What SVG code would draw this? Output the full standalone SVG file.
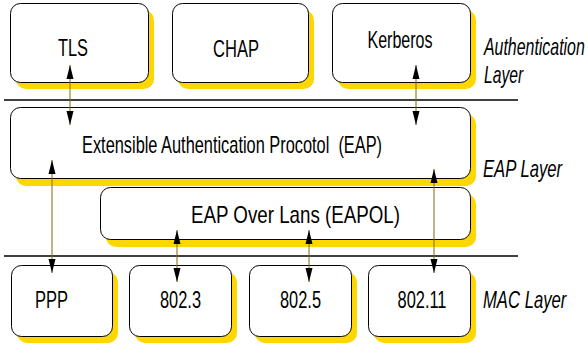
<svg xmlns="http://www.w3.org/2000/svg" width="588" height="347" viewBox="0 0 588 347">
<style>
.sh{fill:#FFD700;stroke:none}
.bx{fill:#fff;stroke:#000;stroke-width:1}
.t{font-family:"Liberation Sans Narrow","Liberation Sans",Arial,sans-serif;font-size:24px;fill:#000;white-space:pre}
.l{font-family:"Liberation Sans Narrow","Liberation Sans",Arial,sans-serif;font-size:23px;font-style:italic;fill:#000}
.c{stroke:#7a6a10;stroke-width:1;fill:none;marker-start:url(#ah);marker-end:url(#ah)}
.sep{stroke:#000;stroke-width:1.5}
</style>
<defs>
<marker id="ah" markerUnits="userSpaceOnUse" markerWidth="14" markerHeight="8" refX="14" refY="4" orient="auto-start-reverse" viewBox="0 0 14 8">
<path d="M0,0.5 L14,4 L0,7.5 Z" fill="#000"/>
</marker>
</defs>
<line class="sep" x1="4" y1="100" x2="518" y2="100"/>
<line class="sep" x1="4" y1="256" x2="518" y2="256"/>
<g id="tls">
<rect class="sh" x="16" y="10" width="138" height="79" rx="10"/>
<rect class="bx" x="10.5" y="3.5" width="138" height="79" rx="10"/>
<text class="t" x="73" y="56" text-anchor="middle" textLength="30" lengthAdjust="spacingAndGlyphs">TLS</text>
</g>
<g id="chap">
<rect class="sh" x="178" y="10" width="136" height="79" rx="10"/>
<rect class="bx" x="172.5" y="3.5" width="136" height="79" rx="10"/>
<text class="t" x="236" y="57" text-anchor="middle" textLength="46" lengthAdjust="spacingAndGlyphs">CHAP</text>
</g>
<g id="kerberos">
<rect class="sh" x="338" y="10" width="138" height="79" rx="10"/>
<rect class="bx" x="332.5" y="3.5" width="138" height="79" rx="10"/>
<text class="t" x="400" y="48" text-anchor="middle" textLength="65" lengthAdjust="spacingAndGlyphs">Kerberos</text>
</g>
<g id="eap">
<rect class="sh" x="16" y="114" width="460" height="72" rx="10"/>
<rect class="bx" x="10.5" y="107.5" width="460" height="71" rx="10"/>
<text class="t" x="82" y="153" xml:space="preserve" textLength="300" lengthAdjust="spacingAndGlyphs">Extensible Authentication Procotol  (EAP)</text>
</g>
<g id="eapol">
<rect class="sh" x="106" y="194" width="370" height="53" rx="10"/>
<rect class="bx" x="100.5" y="187.5" width="370" height="52" rx="10"/>
<text class="t" x="191" y="223" textLength="209" lengthAdjust="spacingAndGlyphs">EAP Over Lans (EAPOL)</text>
</g>
<g id="ppp">
<rect class="sh" x="17" y="272" width="101" height="71" rx="10"/>
<rect class="bx" x="11.5" y="265.5" width="101" height="71" rx="10"/>
<text class="t" x="51.5" y="308" text-anchor="middle" textLength="33" lengthAdjust="spacingAndGlyphs">PPP</text>
</g>
<g id="n8023">
<rect class="sh" x="135" y="272" width="102" height="71" rx="10"/>
<rect class="bx" x="129.5" y="265.5" width="102" height="71" rx="10"/>
<text class="t" x="180.5" y="308" text-anchor="middle" textLength="41" lengthAdjust="spacingAndGlyphs">802.3</text>
</g>
<g id="n8025">
<rect class="sh" x="255" y="272" width="102" height="71" rx="10"/>
<rect class="bx" x="249.5" y="265.5" width="102" height="71" rx="10"/>
<text class="t" x="300.5" y="308" text-anchor="middle" textLength="41" lengthAdjust="spacingAndGlyphs">802.5</text>
</g>
<g id="n80211">
<rect class="sh" x="374" y="272" width="102" height="71" rx="10"/>
<rect class="bx" x="368.5" y="265.5" width="102" height="71" rx="10"/>
<text class="t" x="422" y="308" text-anchor="middle" textLength="49" lengthAdjust="spacingAndGlyphs">802.11</text>
</g>
<g id="labels">
<text class="l" transform="translate(484,55) scale(0.7,1)" x="0" y="0" textLength="144" lengthAdjust="spacingAndGlyphs">Authentication</text>
<text class="l" transform="translate(484,83) scale(0.7,1)" x="0" y="0" textLength="56" lengthAdjust="spacingAndGlyphs">Layer</text>
<text class="l" transform="translate(483,177) scale(0.7,1)" x="0" y="0" textLength="113" lengthAdjust="spacingAndGlyphs">EAP Layer</text>
<text class="l" transform="translate(483,308) scale(0.7,1)" x="0" y="0" textLength="119" lengthAdjust="spacingAndGlyphs">MAC Layer</text>
</g>
<g id="connectors">
<line class="c" x1="70" y1="65" x2="70" y2="125"/>
<line class="c" x1="416" y1="65" x2="416" y2="125"/>
<line class="c" x1="52" y1="160" x2="52" y2="273"/>
<line class="c" x1="177" y1="230" x2="177" y2="282"/>
<line class="c" x1="309" y1="230" x2="309" y2="282"/>
<line class="c" x1="434" y1="169" x2="434" y2="273"/>
</g>
</svg>
